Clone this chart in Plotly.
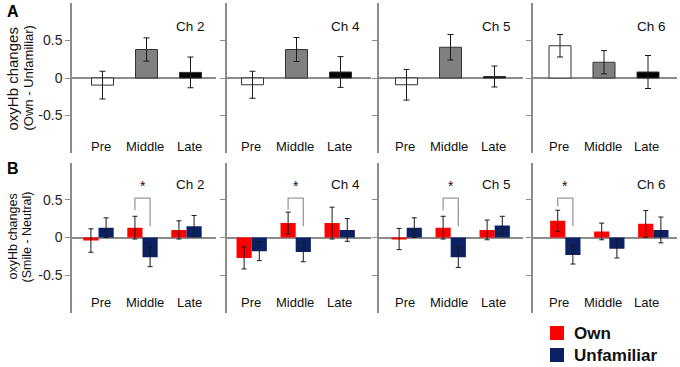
import plotly.graph_objects as go

W, H = 680, 367

# ---------------- data ----------------
periods = ["Pre", "Middle", "Late"]
channels = ["Ch 2", "Ch 4", "Ch 5", "Ch 6"]
y_ticks = [-0.5, 0, 0.5]
y_tick_text = ["-0.5", "0", "0.5"]

# Panel A: oxyHb changes (Own - Unfamiliar)
a_ch2_mean = [-0.095, 0.38, 0.075]
a_ch2_err = [0.185, 0.155, 0.205]
a_ch4_mean = [-0.09, 0.38, 0.08]
a_ch4_err = [0.18, 0.16, 0.205]
a_ch5_mean = [-0.09, 0.41, 0.02]
a_ch5_err = [0.205, 0.17, 0.14]
a_ch6_mean = [0.43, 0.21, 0.08]
a_ch6_err = [0.15, 0.155, 0.22]

# Panel B: oxyHb changes (Smile - Neutral)
b_ch2_own = [-0.04, 0.13, 0.10]
b_ch2_own_err = [0.155, 0.15, 0.12]
b_ch2_unf = [0.13, -0.26, 0.15]
b_ch2_unf_err = [0.13, 0.125, 0.14]
b_ch4_own = [-0.27, 0.19, 0.19]
b_ch4_own_err = [0.145, 0.145, 0.21]
b_ch4_unf = [-0.18, -0.19, 0.10]
b_ch4_unf_err = [0.125, 0.13, 0.15]
b_ch5_own = [-0.02, 0.13, 0.10]
b_ch5_own_err = [0.14, 0.15, 0.13]
b_ch5_unf = [0.13, -0.26, 0.16]
b_ch5_unf_err = [0.13, 0.135, 0.12]
b_ch6_own = [0.22, 0.08, 0.18]
b_ch6_own_err = [0.14, 0.11, 0.175]
b_ch6_unf = [-0.23, -0.15, 0.10]
b_ch6_unf_err = [0.12, 0.12, 0.17]

# significance brackets (period index per channel, bracket heights)
sig_period = [1, 1, 1, 0]
sig_top = [0.52, 0.52, 0.52, 0.52]
sig_left_end = [0.36, 0.37, 0.36, 0.41]
sig_right_end = [0.15, 0.15, 0.15, 0.15]

a_means = [a_ch2_mean, a_ch4_mean, a_ch5_mean, a_ch6_mean]
a_errs = [a_ch2_err, a_ch4_err, a_ch5_err, a_ch6_err]
b_own = [b_ch2_own, b_ch4_own, b_ch5_own, b_ch6_own]
b_own_err = [b_ch2_own_err, b_ch4_own_err, b_ch5_own_err, b_ch6_own_err]
b_unf = [b_ch2_unf, b_ch4_unf, b_ch5_unf, b_ch6_unf]
b_unf_err = [b_ch2_unf_err, b_ch4_unf_err, b_ch5_unf_err, b_ch6_unf_err]

# ---------------- styling / layout constants ----------------
FONT = "Liberation Sans, Arial, Helvetica, sans-serif"
AXIS_GRAY = "#8c8c8c"
RED = "#ff0000"
NAVY = "#0b2163"
TOP_COLORS = ["#ffffff", "#808080", "#000000"]
ERR_COLOR = "#1a1a1a"

axis_px = [72, 227, 379, 533]       # left edge of every panel
panel_w = 144
step_px = 44.0
top_off = [30.5, 25.5, 27.5, 27.0]  # first-category centre offset (top row)
bot_off = [26.5, 24.7, 27.7, 32.3]  # first-category centre offset (bottom row)
top_dom_px = (3, 153)
bot_dom_px = (162.5, 312.5)
bar_w_top = 0.5
bar_w_bot = 0.345


def fx(px):
    return px / W


def fy(py):
    return 1 - py / H


xs = list(range(len(periods)))
fig = go.Figure()

for i in range(4):
    # top row
    n = i + 1
    xa, ya = ("x", "y") if n == 1 else (f"x{n}", f"y{n}")
    fig.add_trace(go.Bar(
        x=xs, y=a_means[i], width=bar_w_top,
        marker=dict(color=TOP_COLORS, line=dict(color="#333333", width=1)),
        error_y=dict(type="data", array=a_errs[i], color=ERR_COLOR,
                     thickness=1, width=3),
        xaxis=xa, yaxis=ya, showlegend=False, hoverinfo="skip"))
    # bottom row
    m = i + 5
    xb, yb = f"x{m}", f"y{m}"
    fig.add_trace(go.Bar(
        x=xs, y=b_own[i], width=bar_w_bot, offset=-bar_w_bot,
        marker=dict(color=RED, line=dict(width=0)),
        error_y=dict(type="data", array=b_own_err[i], color=ERR_COLOR,
                     thickness=1, width=2.5),
        xaxis=xb, yaxis=yb, showlegend=False, name="Own"))
    fig.add_trace(go.Bar(
        x=xs, y=b_unf[i], width=bar_w_bot, offset=0,
        marker=dict(color=NAVY, line=dict(width=0)),
        error_y=dict(type="data", array=b_unf_err[i], color=ERR_COLOR,
                     thickness=1, width=2.5),
        xaxis=xb, yaxis=yb, showlegend=False, name="Unfamiliar"))

layout = dict(
    width=W, height=H, margin=dict(l=0, r=0, t=0, b=0),
    paper_bgcolor="white", plot_bgcolor="rgba(0,0,0,0)",
    barmode="overlay", showlegend=False,
    font=dict(family=FONT, size=13, color="#222222"),
)

for i in range(4):
    for row, (n, offs, dom, rng) in enumerate([
        (i + 1, top_off, top_dom_px, [-1.0, 1.0]),
        (i + 5, bot_off, bot_dom_px, [-0.99, 0.99]),
    ]):
        xkey = "xaxis" if n == 1 else f"xaxis{n}"
        ykey = "yaxis" if n == 1 else f"yaxis{n}"
        xname = "x" if n == 1 else f"x{n}"
        yname = "y" if n == 1 else f"y{n}"
        off = offs[i]
        layout[xkey] = dict(
            domain=[fx(axis_px[i]), fx(axis_px[i] + panel_w)],
            range=[-off / step_px, (panel_w - off) / step_px],
            anchor=yname, visible=False, fixedrange=True)
        layout[ykey] = dict(
            domain=[fy(dom[1]), fy(dom[0])], range=rng, anchor=xname,
            showline=True, linecolor=AXIS_GRAY, linewidth=1.5,
            ticks="outside", ticklen=5, tickwidth=1.2, tickcolor=AXIS_GRAY,
            tickvals=y_ticks, ticktext=y_tick_text,
            showticklabels=(i == 0),
            tickfont=dict(family=FONT, size=14, color="#222222"),
            zeroline=True, zerolinecolor=AXIS_GRAY, zerolinewidth=1.5,
            showgrid=False, fixedrange=True)

fig.update_layout(**layout)

annotations = []
shapes = []
for i, ch in enumerate(channels):
    top_x = "x" if i == 0 else f"x{i + 1}"
    top_y = "y" if i == 0 else f"y{i + 1}"
    bot_y = f"y{i + 5}"
    bot_x = f"x{i + 5}"
    ch_x = axis_px[i] + 118
    for cy in (26, 184):
        annotations.append(dict(
            x=fx(ch_x), y=fy(cy), xref="paper", yref="paper", text=ch,
            showarrow=False, font=dict(size=13.5, color="#111111"),
            xanchor="center", yanchor="middle"))
    for k, p in enumerate(periods):
        annotations.append(dict(
            x=xs[k] - 0.03, y=-0.915, xref=top_x, yref=top_y, text=p,
            showarrow=False, font=dict(size=13, color="#111111"),
            xanchor="center", yanchor="middle"))
        annotations.append(dict(
            x=xs[k] - 0.03, y=-0.855, xref=top_x, yref=bot_y, text=p,
            showarrow=False, font=dict(size=13, color="#111111"),
            xanchor="center", yanchor="middle"))
    # significance bracket
    g = xs[sig_period[i]]
    xl, xr = g - bar_w_bot / 2, g + bar_w_bot / 2
    shapes.append(dict(
        type="path", xref=bot_x, yref=bot_y,
        path=(f"M {xl} {sig_left_end[i]} L {xl} {sig_top[i]} "
              f"L {xr} {sig_top[i]} L {xr} {sig_right_end[i]}"),
        line=dict(color="#9a9a9a", width=1.3)))
    annotations.append(dict(
        x=g, y=sig_top[i] + 0.03, xref=bot_x, yref=bot_y, text="*",
        showarrow=False, font=dict(size=14, color="#111111"),
        xanchor="center", yanchor="bottom"))


def paper_text(px, py, text, size, angle=0, color="#111111"):
    return dict(x=fx(px), y=fy(py), xref="paper", yref="paper", text=text,
                textangle=angle, showarrow=False, xanchor="center",
                yanchor="middle", font=dict(size=size, color=color))


# panel letters and y titles
annotations += [
    paper_text(13, 11, "<b>A</b>", 16, color="#000000"),
    paper_text(13, 168, "<b>B</b>", 16, color="#000000"),
    paper_text(12.5, 79, "oxyHb changes", 15, -90),
    paper_text(27.5, 78, "(Own - Unfamiliar)", 13, -90),
    paper_text(12.5, 237, "oxyHb changes", 12.5, -90),
    paper_text(26.5, 237, "(Smile - Neutral)", 12.5, -90),
]

# legend
legend_items = [("Own", RED, 333), ("Unfamiliar", NAVY, 355)]
for label, col, cy in legend_items:
    shapes.append(dict(type="rect", xref="paper", yref="paper",
                       x0=fx(550), x1=fx(564), y0=fy(cy + 7), y1=fy(cy - 7),
                       fillcolor=col, line=dict(width=0)))
    annotations.append(dict(x=fx(572), y=fy(cy), xref="paper", yref="paper",
                            text=f"<b>{label}</b>", showarrow=False,
                            xanchor="left", yanchor="middle",
                            font=dict(size=17, color="#111111")))

fig.update_layout(annotations=annotations, shapes=shapes)
fig.write_html("out.html",
               config={"displayModeBar": False},
               post_script="document.body.style.margin='0';"
                           "document.body.style.padding='0';")
